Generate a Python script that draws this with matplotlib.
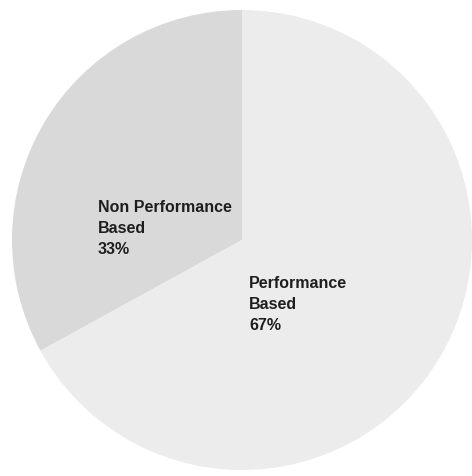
import matplotlib
matplotlib.use("Agg")
import matplotlib.pyplot as plt

categories = ["Non Performance\nBased", "Performance\nBased"]
shares = [33, 67]
colors = ["#d9d9d9", "#ececec"]

fig = plt.figure(figsize=(4.72, 4.76), dpi=100)
ax = fig.add_axes([0, 0, 1, 1])
ax.axis("off")

wedges, _ = ax.pie(shares, colors=colors, startangle=90, counterclock=True,
                   radius=1.0, center=(0, 0), wedgeprops=dict(linewidth=0))

# pixel scale: radius 230 px, centre at (242, 240) from top-left
r = 230.0
cx, cy = 242.0, 240.0
ax.set_xlim(-cx / r, (472 - cx) / r)
ax.set_ylim(-(476 - cy) / r, cy / r)
ax.set_aspect("auto")

label_pos = [(-0.628, 0.175), (0.032, -0.155)]
for name, val, (x, y) in zip(categories, shares, label_pos):
    ax.text(x, y, f"{name}\n{val}%", ha="left", va="top",
            fontsize=11.5, fontweight="bold", family="Liberation Sans",
            color="#1e1e1e", linespacing=1.52)

fig.savefig("out.png", dpi=100, facecolor="white")
